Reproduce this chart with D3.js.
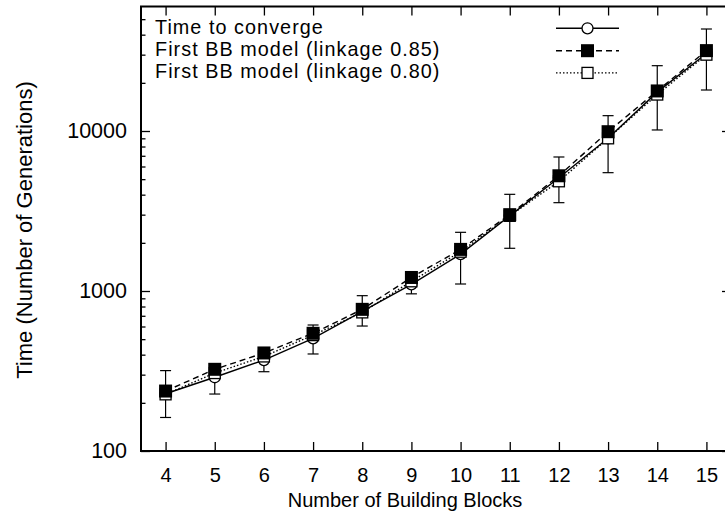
<!DOCTYPE html>
<html><head><meta charset="utf-8">
<script src="https://cdn.jsdelivr.net/npm/d3@7"></script>
<style>
html,body{margin:0;padding:0;background:#fff;overflow:hidden}
text{font-family:"Liberation Sans",Arial,Helvetica,sans-serif;fill:#000}
</style></head><body>
<svg id="chart" width="725" height="520"></svg>
<script>
const blocks = [4,5,6,7,8,9,10,11,12,13,14,15];
const timeToConverge = [228,289,370,506,745,1100,1700,2950,5100,9000,17500,30500];
const firstBB085 = [237,324,410,544,768,1215,1820,3000,5250,9900,17800,31800];
const firstBB080 = [226,307,390,530,735,1150,1760,2950,4850,9000,16900,30000];
const errLow = [162,227,313,404,604,960,1106,1849,3565,5490,10150,18040];
const errHigh = [318,350,428,613,935,1240,2327,4020,6880,12470,25600,43400];
const yMajorTicks = [100,1000,10000];
const yMinorTicks = [200,300,400,500,600,700,800,900,2000,3000,4000,5000,6000,7000,8000,9000,20000,30000,40000,50000];
const seriesNames = ["Time to converge","First BB model (linkage 0.85)","First BB model (linkage 0.80)"];
const xLabel = "Number of Building Blocks";
const yLabel = "Time (Number of Generations)";

const svg = d3.select("#chart");
const L = 141, R = 731, T = 6.5, B = 451;
const x = d3.scaleLinear().domain([3.5, 15.5]).range([L, R]);
const y = d3.scaleLog().domain([100, 60000]).range([B, T]);

function styleAxis(fs){
  return g => {
    g.select(".domain").remove();
    g.selectAll(".tick line").attr("stroke","#000").attr("stroke-width",1.3);
    g.selectAll(".tick text").attr("font-size",fs).attr("font-family",'"Liberation Sans",Arial,sans-serif').attr("fill","#000");
  };
}

svg.append("g").attr("transform",`translate(0,${B})`)
  .call(d3.axisBottom(x).tickValues(blocks).tickSize(-9).tickPadding(17).tickFormat(d3.format("d"))).call(styleAxis(20));
svg.append("g").attr("transform",`translate(0,${T})`)
  .call(d3.axisTop(x).tickValues(blocks).tickSize(-9).tickFormat("")).call(styleAxis(20));
svg.append("g").attr("transform",`translate(${L},0)`)
  .call(d3.axisLeft(y).tickValues(yMajorTicks).tickSize(-9).tickPadding(14).tickFormat(d3.format("d"))).call(styleAxis(21.5));
svg.append("g").attr("transform",`translate(${L},0)`)
  .call(d3.axisLeft(y).tickValues(yMinorTicks).tickSize(-4.5).tickFormat("")).call(styleAxis(20));
svg.append("g").attr("transform",`translate(${R},0)`)
  .call(d3.axisRight(y).tickValues(yMajorTicks).tickSize(-9).tickFormat("")).call(styleAxis(20));
svg.append("g").attr("transform",`translate(${R},0)`)
  .call(d3.axisRight(y).tickValues(yMinorTicks).tickSize(-4.5).tickFormat("")).call(styleAxis(20));

svg.append("rect").attr("x",L).attr("y",T).attr("width",R-L).attr("height",B-T)
  .attr("fill","none").attr("stroke","#000").attr("stroke-width",2);

svg.append("text").attr("x",405).attr("y",507).attr("text-anchor","middle").attr("font-size",20).text(xLabel);
svg.append("text").attr("transform",`translate(32,230) rotate(-90)`).attr("text-anchor","middle").attr("font-size",22).text(yLabel);

// error bars
const eb = svg.append("g").attr("stroke","#000").attr("stroke-width",1.2);
blocks.forEach((b,i)=>{
  const cx = x(b);
  eb.append("line").attr("x1",cx).attr("x2",cx).attr("y1",y(errLow[i])).attr("y2",y(errHigh[i]));
  eb.append("line").attr("x1",cx-5.5).attr("x2",cx+5.5).attr("y1",y(errLow[i])).attr("y2",y(errLow[i]));
  eb.append("line").attr("x1",cx-5.5).attr("x2",cx+5.5).attr("y1",y(errHigh[i])).attr("y2",y(errHigh[i]));
});

const series = [
  {vals: timeToConverge, dash: null, marker: "circle"},
  {vals: firstBB085, dash: "6,4", marker: "filled"},
  {vals: firstBB080, dash: "1.5,2", marker: "open"}
];
const line = d3.line().x((d,i)=>x(blocks[i])).y(d=>y(d));
series.forEach(s=>{
  svg.append("path").datum(s.vals).attr("d",line).attr("fill","none").attr("stroke","#000")
    .attr("stroke-width",1.4).attr("stroke-dasharray",s.dash);
});

function marker(g, type, cx, cy){
  if(type==="circle"){
    g.append("circle").attr("cx",cx).attr("cy",cy).attr("r",5.5).attr("fill","#fff").attr("stroke","#000").attr("stroke-width",1.3);
  } else if(type==="filled"){
    g.append("rect").attr("x",cx-6.5).attr("y",cy-6.5).attr("width",13).attr("height",13).attr("fill","#000");
  } else {
    g.append("rect").attr("x",cx-5.5).attr("y",cy-5.5).attr("width",11).attr("height",11).attr("fill","#fff").attr("stroke","#000").attr("stroke-width",1.3);
  }
}
const mg = svg.append("g");
[series[0], series[2], series[1]].forEach(s=>{
  s.vals.forEach((v,i)=>marker(mg, s.marker, x(blocks[i]), y(v)));
});

// legend
const legY = [28.3, 50.7, 72.9];
seriesNames.forEach((name,i)=>{
  svg.append("text").attr("x",155).attr("y",legY[i]+5.5).attr("font-size",19.8)
    .attr("letter-spacing","1.05px").text(name);
  svg.append("line").attr("x1",556).attr("x2",619).attr("y1",legY[i]).attr("y2",legY[i])
    .attr("stroke","#000").attr("stroke-width",1.4).attr("stroke-dasharray",series[i].dash);
  marker(svg, series[i].marker, 587.5, legY[i]);
});
</script>
</body></html>
